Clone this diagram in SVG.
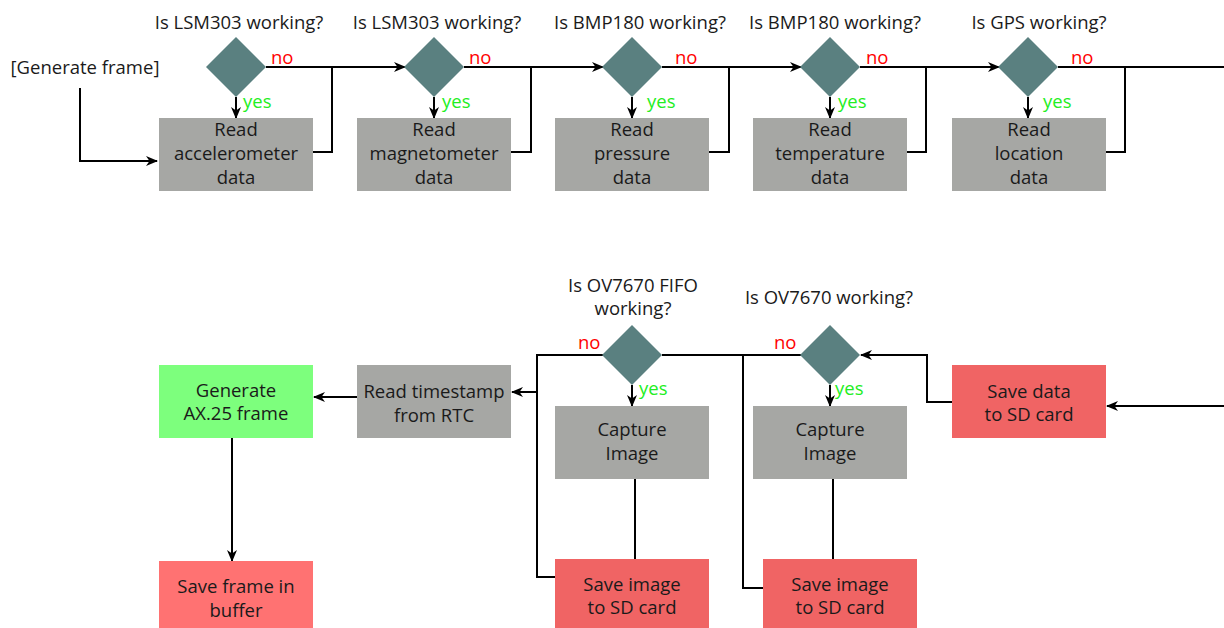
<svg xmlns="http://www.w3.org/2000/svg" width="1224" height="628" viewBox="0 0 1224 628">
  <style>
    text { font-family: "Open Sans", "Noto Sans", "DejaVu Sans", sans-serif; font-size: 18.5px; fill: #1a1a1a; }
    .c { text-anchor: middle; }
    .no { fill: #ff0000; }
    .yes { fill: #22ee22; }
    .dec { fill: #5a8080; }
    .proc { fill: #a6a7a4; }
    .save { fill: #f06464; }
    .savebuf { fill: #ff7272; }
    .gen { fill: #7dff7d; }
    .wire { fill: none; stroke: #000; stroke-width: 2; }
    .arrow { marker-end: url(#ah); }
  </style>
  <defs>
    <marker id="ah" viewBox="0 0 12 10" refX="11" refY="5" markerWidth="12" markerHeight="10" markerUnits="userSpaceOnUse" orient="auto">
      <path d="M0,0 L12,5 L0,10 L3.5,5 Z" fill="#000"/>
    </marker>
    <path id="diamond" d="M0,-30 L30,0 L0,30 L-30,0 Z"/>
  </defs>

  <rect width="1224" height="628" fill="#fff"/>

  <!-- connectors -->
  <g id="connectors">
    <!-- start -->
    <path class="wire arrow" d="M80,88 V161 H157"/>
    <!-- decision yes arrows -->
    <path class="wire arrow" d="M236,97 V118"/>
    <path class="wire arrow" d="M434,97 V118"/>
    <path class="wire arrow" d="M632,97 V118"/>
    <path class="wire arrow" d="M830,97 V118"/>
    <path class="wire arrow" d="M1028,97 V118"/>
    <!-- main chain -->
    <path class="wire arrow" d="M266,67 H405"/>
    <path class="wire arrow" d="M464,67 H603"/>
    <path class="wire arrow" d="M662,67 H801"/>
    <path class="wire arrow" d="M860,67 H999"/>
    <path class="wire" d="M1058,67 H1224"/>
    <!-- returns from read boxes -->
    <path class="wire" d="M313,152 H332 V67"/>
    <path class="wire" d="M511,152 H531 V67"/>
    <path class="wire" d="M709,152 H729 V67"/>
    <path class="wire" d="M907,152 H926 V67"/>
    <path class="wire" d="M1106,152 H1125 V67"/>

    <!-- bottom row -->
    <path class="wire arrow" d="M1224,406 H1107"/>
    <path class="wire arrow" d="M953,402 H927 V355 H861"/>
    <path class="wire arrow" d="M830,385 V406"/>
    <path class="wire arrow" d="M632,385 V406"/>
    <path class="wire" d="M833,479 V559"/>
    <path class="wire" d="M635,479 V559"/>
    <path class="wire" d="M801,355 H662"/>
    <path class="wire" d="M743,355 V588 H763"/>
    <path class="wire" d="M603,355 H537 V577 H555"/>
    <path class="wire arrow" d="M537,392 H512"/>
    <path class="wire arrow" d="M357,397 H314"/>
    <path class="wire arrow" d="M232,438 V561"/>
  </g>

  <g id="start"><text x="85" y="74" class="c">[Generate frame]</text></g>

  <!-- top row: sensor checks -->
  <g id="dec-lsm303-acc">
    <text x="239" y="29" class="c">Is LSM303 working?</text>
    <use href="#diamond" x="236" y="67" class="dec"/>
    <text x="271" y="64" class="no">no</text>
    <text x="243" y="108" class="yes">yes</text>
  </g>
  <g id="read-acc">
    <rect x="159" y="118" width="154" height="73" class="proc"/>
    <text x="236" y="136" class="c">Read</text>
    <text x="236" y="160" class="c">accelerometer</text>
    <text x="236" y="184" class="c">data</text>
  </g>

  <g id="dec-lsm303-mag">
    <text x="437" y="29" class="c">Is LSM303 working?</text>
    <use href="#diamond" x="434" y="67" class="dec"/>
    <text x="469" y="64" class="no">no</text>
    <text x="442" y="108" class="yes">yes</text>
  </g>
  <g id="read-mag">
    <rect x="357" y="118" width="154" height="73" class="proc"/>
    <text x="434" y="136" class="c">Read</text>
    <text x="434" y="160" class="c">magnetometer</text>
    <text x="434" y="184" class="c">data</text>
  </g>

  <g id="dec-bmp180-press">
    <text x="640" y="29" class="c">Is BMP180 working?</text>
    <use href="#diamond" x="632" y="67" class="dec"/>
    <text x="675" y="64" class="no">no</text>
    <text x="647" y="108" class="yes">yes</text>
  </g>
  <g id="read-press">
    <rect x="555" y="118" width="154" height="73" class="proc"/>
    <text x="632" y="136" class="c">Read</text>
    <text x="632" y="160" class="c">pressure</text>
    <text x="632" y="184" class="c">data</text>
  </g>

  <g id="dec-bmp180-temp">
    <text x="835" y="29" class="c">Is BMP180 working?</text>
    <use href="#diamond" x="830" y="67" class="dec"/>
    <text x="866" y="64" class="no">no</text>
    <text x="838" y="108" class="yes">yes</text>
  </g>
  <g id="read-temp">
    <rect x="753" y="118" width="154" height="73" class="proc"/>
    <text x="830" y="136" class="c">Read</text>
    <text x="830" y="160" class="c">temperature</text>
    <text x="830" y="184" class="c">data</text>
  </g>

  <g id="dec-gps">
    <text x="1039" y="29" class="c">Is GPS working?</text>
    <use href="#diamond" x="1028" y="67" class="dec"/>
    <text x="1071" y="64" class="no">no</text>
    <text x="1043" y="108" class="yes">yes</text>
  </g>
  <g id="read-loc">
    <rect x="952" y="118" width="154" height="73" class="proc"/>
    <text x="1029" y="136" class="c">Read</text>
    <text x="1029" y="160" class="c">location</text>
    <text x="1029" y="184" class="c">data</text>
  </g>

  <!-- bottom row: storage, camera and framing -->
  <g id="save-data">
    <rect x="952" y="365" width="154" height="73" class="save"/>
    <text x="1029" y="398" class="c">Save data</text>
    <text x="1029" y="421" class="c">to SD card</text>
  </g>

  <g id="dec-ov7670">
    <text x="829" y="304" class="c">Is OV7670 working?</text>
    <use href="#diamond" x="830" y="355" class="dec"/>
    <text x="774" y="349" class="no">no</text>
    <text x="835" y="395" class="yes">yes</text>
  </g>
  <g id="capture-ov7670">
    <rect x="753" y="406" width="154" height="73" class="proc"/>
    <text x="830" y="436" class="c">Capture</text>
    <text x="830" y="460" class="c">Image</text>
  </g>
  <g id="save-image-ov7670">
    <rect x="763" y="559" width="154" height="69" class="save"/>
    <text x="840" y="591" class="c">Save image</text>
    <text x="840" y="614" class="c">to SD card</text>
  </g>

  <g id="dec-ov7670-fifo">
    <text x="633" y="292" class="c">Is OV7670 FIFO</text>
    <text x="633" y="315" class="c">working?</text>
    <use href="#diamond" x="632" y="355" class="dec"/>
    <text x="578" y="349" class="no">no</text>
    <text x="639" y="395" class="yes">yes</text>
  </g>
  <g id="capture-fifo">
    <rect x="555" y="406" width="154" height="73" class="proc"/>
    <text x="632" y="436" class="c">Capture</text>
    <text x="632" y="460" class="c">Image</text>
  </g>
  <g id="save-image-fifo">
    <rect x="555" y="559" width="154" height="69" class="save"/>
    <text x="632" y="591" class="c">Save image</text>
    <text x="632" y="614" class="c">to SD card</text>
  </g>

  <g id="read-rtc">
    <rect x="357" y="365" width="154" height="73" class="proc"/>
    <text x="434" y="398" class="c">Read timestamp</text>
    <text x="434" y="422" class="c">from RTC</text>
  </g>
  <g id="generate-frame">
    <rect x="159" y="365" width="154" height="73" class="gen"/>
    <text x="236" y="397" class="c">Generate</text>
    <text x="236" y="420" class="c">AX.25 frame</text>
  </g>
  <g id="save-buffer">
    <rect x="159" y="561" width="154" height="67" class="savebuf"/>
    <text x="236" y="593" class="c">Save frame in</text>
    <text x="236" y="617" class="c">buffer</text>
  </g>
</svg>
